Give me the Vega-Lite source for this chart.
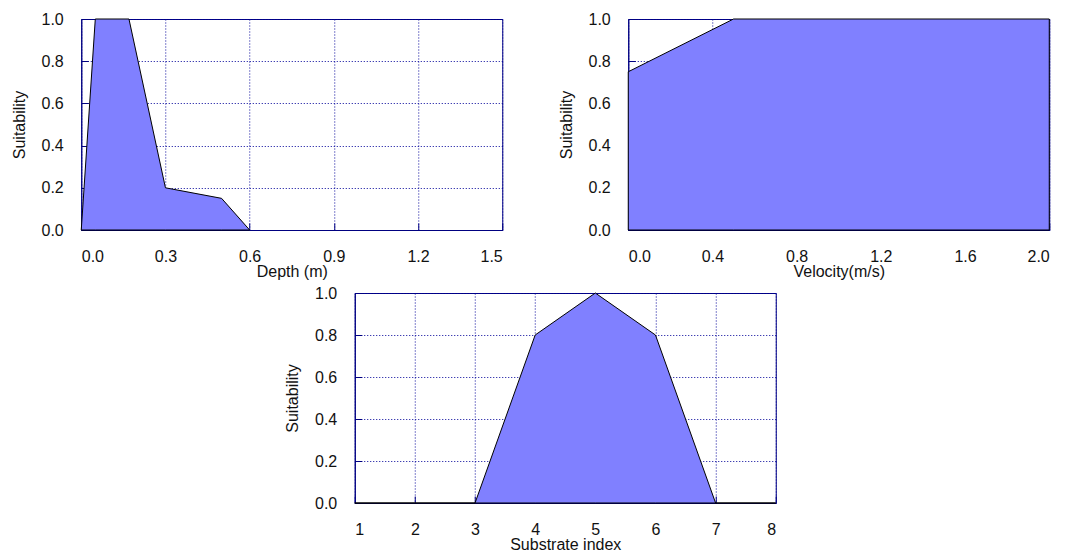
{
  "$schema": "https://vega.github.io/schema/vega-lite/v6.json",
  "padding": {"left": 10, "top": 10, "right": 5, "bottom": 0},
  "background": "white",
  "datasets": {
    "depth": [
      {"depth": 0.0, "suit": 0.0},
      {"depth": 0.05, "suit": 1.0},
      {"depth": 0.17, "suit": 1.0},
      {"depth": 0.3, "suit": 0.2},
      {"depth": 0.5, "suit": 0.15},
      {"depth": 0.6, "suit": 0.0}
    ],
    "velocity": [
      {"vel": 0.0, "suit": 0.75},
      {"vel": 0.5, "suit": 1.0},
      {"vel": 2.0, "suit": 1.0}
    ],
    "substrate": [
      {"sub": 1, "suit": 0.0},
      {"sub": 2, "suit": 0.0},
      {"sub": 3, "suit": 0.0},
      {"sub": 4, "suit": 0.8},
      {"sub": 5, "suit": 1.0},
      {"sub": 6, "suit": 0.8},
      {"sub": 7, "suit": 0.0},
      {"sub": 8, "suit": 0.0}
    ]
  },
  "config": {
    "font": "Liberation Sans",
    "view": {"stroke": "#000080", "strokeWidth": 1},
    "axis": {
      "domainColor": "#000080",
      "domainWidth": 1,
      "gridColor": "#000099",
      "gridDash": [1, 2],
      "gridWidth": 1,
      "gridOpacity": 1,
      "tickColor": "#000080",
      "tickSize": -7,
      "labelFont": "Liberation Sans",
      "labelFontSize": 16,
      "labelColor": "#111111",
      "titleFont": "Liberation Sans",
      "titleFontSize": 16,
      "titleFontWeight": "normal",
      "titleColor": "#111111"
    },
    "axisX": {"labelPadding": 25, "titlePadding": -1},
    "axisY": {"labelPadding": 25, "titlePadding": 14}
  },
  "vconcat": [
    {
      "hconcat": [
        {
          "width": 421,
          "height": 211,
          "data": {"name": "depth"},
          "mark": {"type": "area", "color": "#8080ff", "opacity": 1, "stroke": "black", "strokeWidth": 1},
          "encoding": {
            "x": {"field": "depth", "type": "quantitative", "title": "Depth (m)",
                  "scale": {"domain": [0, 1.5], "nice": false},
                  "axis": {"values": [0, 0.3, 0.6, 0.9, 1.2, 1.5], "format": ".1f"}},
            "y": {"field": "suit", "type": "quantitative", "title": "Suitability",
                  "scale": {"domain": [0, 1], "nice": false},
                  "axis": {"values": [0, 0.2, 0.4, 0.6, 0.8, 1.0], "format": ".1f"}}
          }
        },
        {
          "width": 421,
          "height": 211,
          "data": {"name": "velocity"},
          "mark": {"type": "area", "color": "#8080ff", "opacity": 1, "stroke": "black", "strokeWidth": 1},
          "encoding": {
            "x": {"field": "vel", "type": "quantitative", "title": "Velocity(m/s)",
                  "scale": {"domain": [0, 2.0], "nice": false},
                  "axis": {"values": [0, 0.4, 0.8, 1.2, 1.6, 2.0], "format": ".1f"}},
            "y": {"field": "suit", "type": "quantitative", "title": "Suitability",
                  "scale": {"domain": [0, 1], "nice": false},
                  "axis": {"values": [0, 0.2, 0.4, 0.6, 0.8, 1.0], "format": ".1f"}}
          }
        }
      ],
      "spacing": 54
    },
    {
      "width": 421,
      "height": 210,
      "data": {"name": "substrate"},
      "mark": {"type": "area", "color": "#8080ff", "opacity": 1, "stroke": "black", "strokeWidth": 1},
      "encoding": {
        "x": {"field": "sub", "type": "quantitative", "title": "Substrate index",
              "scale": {"domain": [1, 8], "nice": false},
              "axis": {"values": [1, 2, 3, 4, 5, 6, 7, 8], "format": "d"}},
        "y": {"field": "suit", "type": "quantitative", "title": "Suitability",
              "scale": {"domain": [0, 1], "nice": false},
              "axis": {"values": [0, 0.2, 0.4, 0.6, 0.8, 1.0], "format": ".1f"}}
      }
    }
  ],
  "spacing": 4,
  "center": true
}
